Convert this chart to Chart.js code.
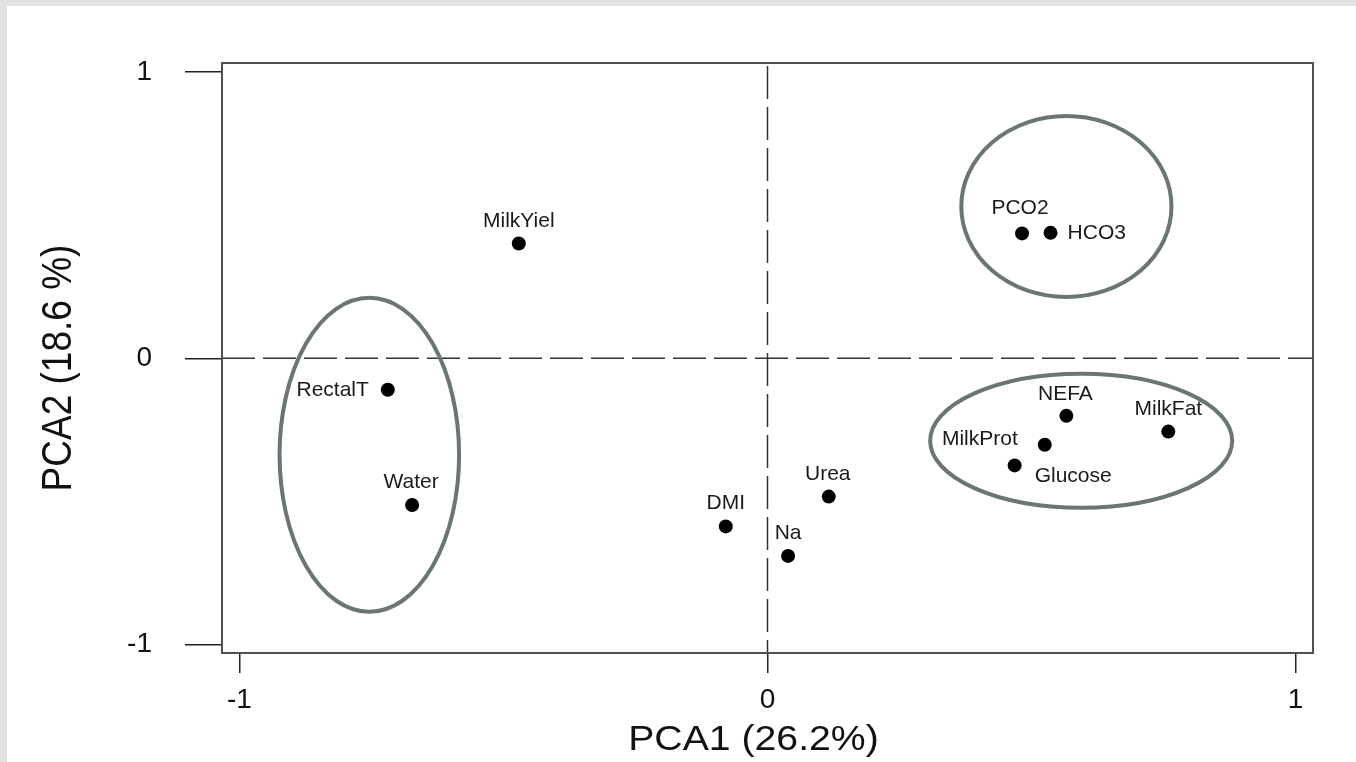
<!DOCTYPE html>
<html>
<head>
<meta charset="utf-8">
<script src="https://cdn.jsdelivr.net/npm/chart.js@4"></script>
<style>
  html, body { margin: 0; padding: 0; background: #e2e2e2; overflow: hidden; }
  #wrap { position: absolute; left: 7px; top: 6px; width: 1349px; height: 756px; background: #fff; }
  canvas { display: block; }
</style>
</head>
<body>
<div id="wrap"><canvas id="pca"></canvas></div>
<script>
// variables and their loadings on the first two components
const variables = ['MilkYiel', 'RectalT', 'Water', 'DMI', 'Na', 'Urea', 'PCO2', 'HCO3', 'NEFA', 'MilkFat', 'MilkProt', 'Glucose']
const pca1 = [-0.471, -0.719, -0.673, -0.079, 0.039, 0.116, 0.482, 0.536, 0.566, 0.759, 0.525, 0.468]
const pca2 = [0.401, -0.110, -0.512, -0.587, -0.690, -0.483, 0.436, 0.438, -0.201, -0.256, -0.302, -0.374]
const axisTicks = [-1, 0, 1]
const xTitle = 'PCA1 (26.2%)'
const yTitle = 'PCA2 (18.6 %)'

// circled groups: centre and half axes, in loading units
const groupCx = [-0.754, 0.566, 0.594]
const groupCy = [-0.337, 0.530, -0.288]
const groupRx = [0.170, 0.199, 0.286]
const groupRy = [0.548, 0.316, 0.234]

// where each name sits next to its dot: [align, dx, dy] in px
const labelPlace = [
  ['center', 0, -22], ['right', -19, 0], ['center', -1, -23], ['center', 0, -23],
  ['center', 0, -23], ['center', -1, -22], ['center', -2, -25], ['left', 17, 0],
  ['center', -1, -22], ['center', 0, -22], ['right', -27, -6], ['left', 20, 11]
]

const FONT = "'Liberation Sans', Arial, sans-serif"

const backdrop = {
  id: 'backdrop',
  beforeDatasetsDraw(chart) {
    const {ctx, chartArea: a, scales: {x, y}} = chart
    ctx.save()
    // reference lines through the origin
    ctx.strokeStyle = '#333'
    ctx.lineWidth = 1.5
    ctx.setLineDash([33, 8])
    const x0 = x.getPixelForValue(0), y0 = y.getPixelForValue(0)
    ctx.beginPath()
    ctx.moveTo(a.left, y0); ctx.lineTo(a.right, y0)
    ctx.moveTo(x0, a.top + 3); ctx.lineTo(x0, a.bottom)
    ctx.stroke()
    ctx.setLineDash([])

    // group ellipses
    ctx.strokeStyle = '#6b766f'
    ctx.lineWidth = 4
    groupCx.forEach((cx, i) => {
      const px = x.getPixelForValue(cx), py = y.getPixelForValue(groupCy[i])
      const rx = Math.abs(x.getPixelForValue(cx + groupRx[i]) - px)
      const ry = Math.abs(y.getPixelForValue(groupCy[i] + groupRy[i]) - py)
      ctx.beginPath()
      ctx.ellipse(px, py, rx, ry, 0, 0, Math.PI * 2)
      ctx.stroke()
    })

    // plot box
    ctx.strokeStyle = '#505050'
    ctx.lineWidth = 2
    ctx.strokeRect(a.left, a.top, a.right - a.left, a.bottom - a.top)
    ctx.restore()
  }
}

const pointNames = {
  id: 'pointNames',
  afterDatasetsDraw(chart) {
    const {ctx} = chart
    const meta = chart.getDatasetMeta(0)
    ctx.save()
    ctx.font = '21px ' + FONT
    ctx.fillStyle = '#1a1a1a'
    ctx.textBaseline = 'middle'
    meta.data.forEach((pt, i) => {
      const [align, dx, dy] = labelPlace[i]
      ctx.textAlign = align
      ctx.fillText(variables[i], pt.x + dx, pt.y + dy)
    })
    ctx.restore()
  }
}

// axis titles, slightly widened like the rest of the figure's lettering
const axisTitles = {
  id: 'axisTitles',
  afterDraw(chart) {
    const {ctx, chartArea: a} = chart
    ctx.save()
    ctx.fillStyle = '#111'
    ctx.textAlign = 'center'
    ctx.textBaseline = 'middle'

    ctx.save()
    ctx.translate((a.left + a.right) / 2 - 14, a.bottom + 87)
    ctx.scale(1.12, 1)
    ctx.font = '35px ' + FONT
    ctx.fillText(xTitle, 0, 0)
    ctx.restore()

    ctx.save()
    ctx.translate(a.left - 163, (a.top + a.bottom) / 2 + 10)
    ctx.scale(1.15, 1)
    ctx.rotate(-Math.PI / 2)
    ctx.font = '37px ' + FONT
    ctx.fillText(yTitle, 0, 0)
    ctx.restore()

    ctx.restore()
  }
}

const tickGrid = len => ({
  drawOnChartArea: false,
  drawTicks: true,
  tickLength: len,
  color: '#222',
  lineWidth: 1.5
})

new Chart(document.getElementById('pca'), {
  type: 'scatter',
  data: {
    datasets: [{
      data: pca1.map((v, i) => ({x: v, y: pca2[i]})),
      backgroundColor: '#000',
      borderWidth: 0,
      pointRadius: 7,
      pointHoverRadius: 7
    }]
  },
  options: {
    responsive: true,
    maintainAspectRatio: false,
    animation: false,
    layout: {padding: {top: 57, right: 43, left: 0, bottom: 0}},
    plugins: {legend: {display: false}, tooltip: {enabled: false}},
    scales: {
      x: {
        type: 'linear',
        min: -1.033,
        max: 1.033,
        afterBuildTicks: s => { s.ticks = axisTicks.map(v => ({value: v})) },
        afterFit: s => { s.height = 109 },
        ticks: {font: {family: FONT, size: 28}, color: '#111', padding: 10, callback: v => String(v)},
        grid: tickGrid(20),
        border: {display: false}
      },
      y: {
        type: 'linear',
        min: -1.029,
        max: 1.031,
        afterBuildTicks: s => { s.ticks = axisTicks.map(v => ({value: v})) },
        afterFit: s => { s.width = 215 },
        ticks: {font: {family: FONT, size: 28}, color: '#111', padding: 33, callback: v => String(v)},
        grid: tickGrid(37),
        border: {display: false}
      }
    }
  },
  plugins: [backdrop, pointNames, axisTitles]
})
</script>
</body>
</html>
